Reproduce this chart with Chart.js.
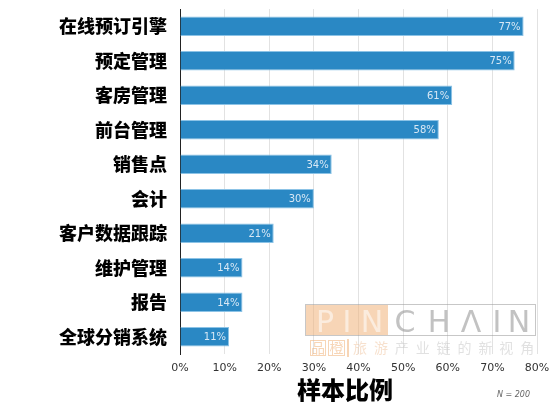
<!DOCTYPE html>
<html>
<head>
<meta charset="utf-8">
<script src="https://cdn.jsdelivr.net/npm/chart.js@4/dist/chart.umd.min.js"></script>
<style>
  html, body { margin: 0; padding: 0; background: #fff; }
  #wrap { width: 550px; height: 416px; }
</style>
</head>
<body>
<div id="wrap"><canvas id="featureChart"></canvas></div>
<script>
const categories = ['在线预订引擎', '预定管理', '客房管理', '前台管理', '销售点', '会计', '客户数据跟踪', '维护管理', '报告', '全球分销系统'];
const shares = [77, 75, 61, 58, 34, 30, 21, 14, 14, 11];
const xTicks = [0, 10, 20, 30, 40, 50, 60, 70, 80];

// value labels inside the bar end
const barLabels = {
    id: 'barLabels',
    afterDatasetsDraw(chart) {
        const ctx = chart.ctx;
        const meta = chart.getDatasetMeta(0);
        ctx.save();
        ctx.font = '10px "DejaVu Sans"';
        ctx.fillStyle = '#d8e8f5';
        ctx.textAlign = 'right';
        ctx.textBaseline = 'middle';
        meta.data.forEach((bar, i) => {
            ctx.fillText(shares[i] + '%', bar.x - 3, bar.y + 1);
        });
        ctx.restore();
    }
};

// watermark, axis title and sample note
const extras = {
    id: 'extras',
    afterDraw(chart) {
        const ctx = chart.ctx;
        ctx.save();
        ctx.globalAlpha = 0.55;
        ctx.fillStyle = '#f0b27a';
        ctx.fillRect(306, 305, 82, 30);
        ctx.fillRect(347, 339, 2, 18);
        ctx.strokeStyle = '#999';
        ctx.lineWidth = 1;
        ctx.strokeRect(305.5, 304.5, 230, 31);
        ctx.font = '30px "DejaVu Sans"';
        ctx.textBaseline = 'alphabetic';
        ctx.textAlign = 'center';
        const letters = ['P', 'I', 'N', 'C', 'H', 'Λ', 'I', 'N'];
        const centers = [325, 347, 372, 405, 439, 471, 497, 519];
        letters.forEach((ch, i) => {
            ctx.fillStyle = i < 3 ? '#ffffff' : '#8f8f8f';
            ctx.fillText(ch, centers[i], 332);
        });
        ctx.strokeStyle = '#f0b27a';
        ctx.strokeRect(310.5, 340.5, 15, 15);
        ctx.strokeRect(328.5, 340.5, 16, 15);
        ctx.font = '14px "Noto Sans CJK SC"';
        ctx.textBaseline = 'middle';
        ctx.fillStyle = '#f0b27a';
        ctx.fillText('品', 318, 348);
        ctx.fillText('橙', 336.5, 348);
        const sub = '旅游产业链的新视角'.split('');
        sub.forEach((ch, i) => {
            ctx.fillStyle = i < 2 ? '#f0c9a5' : '#c8c8c8';
            ctx.fillText(ch, 360 + i * 20.9, 348);
        });
        ctx.restore();

        ctx.save();
        ctx.font = '900 24px "Noto Sans CJK SC"';
        ctx.fillStyle = '#000';
        ctx.textAlign = 'center';
        ctx.textBaseline = 'middle';
        ctx.fillText('样本比例', 345, 390);
        ctx.font = 'italic 8px "DejaVu Sans"';
        ctx.fillStyle = '#666';
        ctx.textAlign = 'left';
        ctx.fillText('N = 200', 497, 395);
        ctx.restore();
    }
};

new Chart(document.getElementById('featureChart'), {
    type: 'bar',
    data: {
        labels: categories,
        datasets: [{
            data: shares,
            backgroundColor: '#2a88c4',
            borderColor: '#8cc3e6',
            borderWidth: 1,
            borderSkipped: 'left',
            categoryPercentage: 1,
            barPercentage: 0.56
        }]
    },
    options: {
        indexAxis: 'y',
        responsive: true,
        maintainAspectRatio: false,
        animation: false,
        layout: { padding: { top: 9, right: 13, left: 0, bottom: 0 } },
        plugins: {
            legend: { display: false },
            tooltip: { enabled: false }
        },
        scales: {
            x: {
                min: 0,
                max: 80,
                afterBuildTicks: (scale) => { scale.ticks = xTicks.map(v => ({ value: v })); },
                afterFit: (scale) => {
                    scale.height = 62;
                    scale.paddingLeft = 0;
                    scale.paddingRight = 0;
                },
                grid: { color: '#e2e2e2', drawTicks: false, lineWidth: 1 },
                border: { display: false },
                ticks: {
                    padding: 8,
                    color: '#333',
                    font: { family: 'DejaVu Sans', size: 11 },
                    callback: (v) => v + '%'
                }
            },
            y: {
                afterFit: (scale) => {
                    scale.width = 180;
                    scale.paddingTop = 0;
                    scale.paddingBottom = 0;
                },
                grid: { display: false, drawTicks: false },
                border: { display: true, color: '#222', width: 1 },
                ticks: {
                    padding: 13,
                    color: '#000',
                    font: { family: 'Noto Sans CJK SC', size: 18, weight: '900' }
                }
            }
        }
    },
    plugins: [barLabels, extras]
});
</script>
</body>
</html>
